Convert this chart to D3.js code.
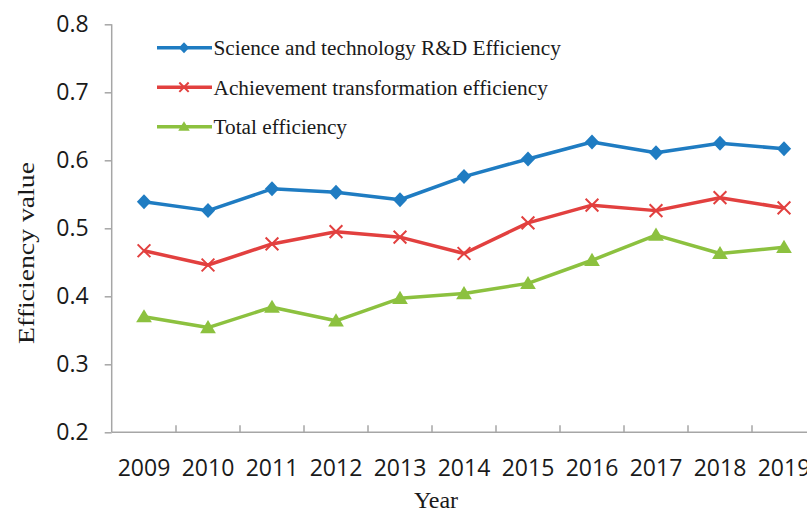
<!DOCTYPE html>
<html>
<head>
<meta charset="utf-8">
<script src="https://cdn.jsdelivr.net/npm/d3@7"></script>
<style>
  html, body { margin: 0; padding: 0; background: #fff; overflow: hidden; }
  svg { display: block; }
</style>
</head>
<body>
<svg id="chart" width="807" height="513"></svg>
<script>
// ---- data ----
const years = ["2009","2010","2011","2012","2013","2014","2015","2016","2017","2018","2019"];
const rdEfficiency = [0.539, 0.526, 0.558, 0.553, 0.542, 0.576, 0.602, 0.627, 0.611, 0.625, 0.617];
const transformationEfficiency = [0.467, 0.446, 0.477, 0.495, 0.487, 0.463, 0.508, 0.534, 0.526, 0.545, 0.530];
const totalEfficiency = [0.370, 0.354, 0.384, 0.364, 0.397, 0.404, 0.419, 0.453, 0.490, 0.463, 0.472];
const yTicks = [0.2, 0.3, 0.4, 0.5, 0.6, 0.7, 0.8];
const seriesNames = ["Science and technology R&D Efficiency", "Achievement transformation efficiency", "Total efficiency"];

const series = [
  { name: seriesNames[0], values: rdEfficiency, color: "#1f7cc2", marker: "diamond" },
  { name: seriesNames[1], values: transformationEfficiency, color: "#e2403f", marker: "cross" },
  { name: seriesNames[2], values: totalEfficiency, color: "#8cc13f", marker: "triangle" }
];

const svg = d3.select("#chart");
const axisColor = "#a6a6a6";

const x = d3.scaleBand().domain(years).range([112, 816]).padding(0);
const y = d3.scaleLinear().domain([0.2, 0.8]).range([432.3, 24.3]);
const cx = d => x(d) + x.bandwidth() / 2;

// y axis
const yAxis = svg.append("g")
  .attr("transform", "translate(111.7,0)")
  .call(d3.axisLeft(y).tickValues(yTicks).tickSize(7).tickPadding(16).tickFormat(d3.format(".1f")));
yAxis.select(".domain").attr("stroke", axisColor).attr("stroke-width", 1.5).attr("d", `M0,${y(0.8)}V${y(0.2)}`);
yAxis.selectAll(".tick line").attr("stroke", axisColor).attr("stroke-width", 1.5);
yAxis.selectAll(".tick text")
  .attr("fill", "#1a1a1a")
  .style("font-family", "'Open Sans', sans-serif")
  .style("font-size", "23px");

// x axis
const xAxisG = svg.append("g").attr("transform", `translate(0,${y(0.2)})`);
xAxisG.append("line")
  .attr("x1", 111.7).attr("x2", 816)
  .attr("y1", 0).attr("y2", 0)
  .attr("stroke", axisColor).attr("stroke-width", 1.5);
xAxisG.selectAll("line.tk")
  .data(years)
  .enter().append("line")
  .attr("class", "tk")
  .attr("x1", d => x(d) + x.bandwidth()).attr("x2", d => x(d) + x.bandwidth())
  .attr("y1", 0).attr("y2", -7)
  .attr("stroke", axisColor).attr("stroke-width", 1.5);
xAxisG.selectAll("text.lbl")
  .data(years)
  .enter().append("text")
  .attr("class", "lbl")
  .attr("x", d => cx(d))
  .attr("y", 43.7)
  .attr("text-anchor", "middle")
  .attr("fill", "#1a1a1a")
  .style("font-family", "'Open Sans', sans-serif")
  .style("font-size", "23px")
  .text(d => d);

// axis titles
svg.append("text")
  .attr("transform", "translate(34,253) rotate(-90)")
  .attr("text-anchor", "middle")
  .attr("textLength", 182)
  .attr("lengthAdjust", "spacingAndGlyphs")
  .attr("fill", "#1a1a1a")
  .style("font-family", "'Liberation Serif', 'Times New Roman', serif")
  .style("font-size", "22.5px")
  .text("Efficiency value");

svg.append("text")
  .attr("x", 436).attr("y", 508)
  .attr("text-anchor", "middle")
  .attr("fill", "#1a1a1a")
  .style("font-family", "'Liberation Serif', 'Times New Roman', serif")
  .style("font-size", "24px")
  .text("Year");

// markers
function drawMarker(g, type, color, s) {
  if (type === "diamond") {
    g.append("path").attr("d", `M0,${-s}L${s*0.95},0L0,${s}L${-s*0.95},0Z`).attr("fill", color);
  } else if (type === "cross") {
    const c = s * 0.85;
    g.append("path").attr("d", `M${-c},${-c}L${c},${c}M${-c},${c}L${c},${-c}`)
      .attr("stroke", color).attr("stroke-width", 2).attr("fill", "none");
  } else {
    g.append("path").attr("d", `M0,${-s}L${s*1.05},${s*0.75}L${-s*1.05},${s*0.75}Z`).attr("fill", color);
  }
}

const line = d3.line().x((d, i) => cx(years[i])).y(d => y(d));

series.forEach(s => {
  svg.append("path")
    .datum(s.values)
    .attr("d", line)
    .attr("fill", "none")
    .attr("stroke", s.color)
    .attr("stroke-width", 3.5)
    .attr("stroke-linejoin", "round");
  s.values.forEach((v, i) => {
    const g = svg.append("g").attr("transform", `translate(${cx(years[i])},${y(v)})`);
    drawMarker(g, s.marker, s.color, 7.5);
  });
});

// legend
const legend = svg.append("g");
series.forEach((s, i) => {
  const ly = 47.7 + i * 39.5;
  legend.append("line")
    .attr("x1", 157).attr("x2", 212)
    .attr("y1", ly).attr("y2", ly)
    .attr("stroke", s.color).attr("stroke-width", 3.5);
  const g = legend.append("g").attr("transform", `translate(184,${ly})`);
  drawMarker(g, s.marker, s.color, 5.5);
  legend.append("text")
    .attr("x", 213.5).attr("y", ly + 7.3)
    .attr("fill", "#1a1a1a")
    .style("font-family", "'Liberation Serif', 'Times New Roman', serif")
    .style("font-size", "21.3px")
    .text(s.name);
});
</script>
</body>
</html>
